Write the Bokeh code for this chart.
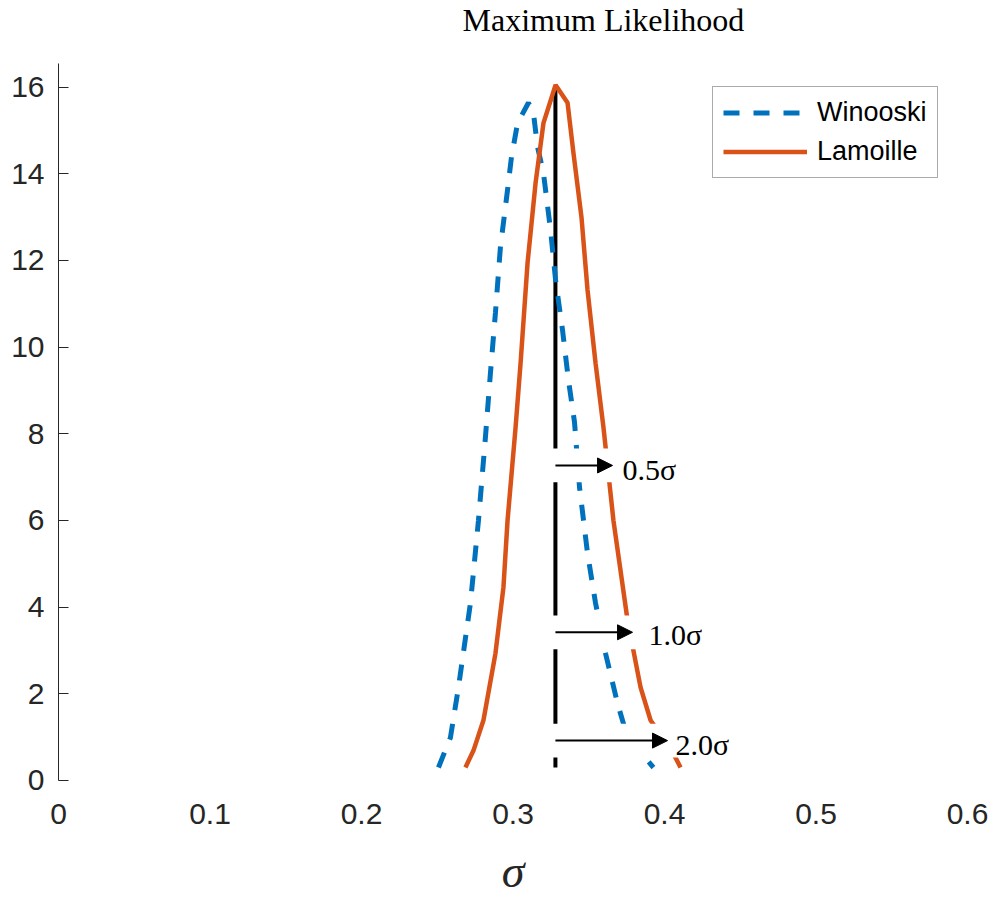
from bokeh.plotting import figure
from bokeh.models import Range1d, FixedTicker, Label, Arrow, NormalHead, Legend, LegendItem
from bokeh.embed import file_html
from bokeh.resources import INLINE

# ---------------- data ----------------
winooski_sigma = [0.2508, 0.2587, 0.2640, 0.2719, 0.2772, 0.2818, 0.2851, 0.2884, 0.2917, 0.2964,
                  0.2990, 0.3030, 0.3102, 0.3135, 0.3162, 0.3201, 0.3248, 0.3281, 0.3327, 0.3366,
                  0.3406, 0.3439, 0.3492, 0.3545, 0.3611, 0.3690, 0.3756, 0.3927]
winooski_like = [0.30, 0.99, 2.15, 4.09, 6.00, 7.92, 9.40, 10.79, 12.31, 13.63,
                 14.39, 15.17, 15.64, 15.40, 14.62, 14.02, 12.70, 11.55, 10.39, 9.24,
                 8.27, 6.77, 5.24, 4.09, 2.93, 1.78, 0.99, 0.30]

lamoille_sigma = [0.2686, 0.2739, 0.2805, 0.2884, 0.2937, 0.2964, 0.3017, 0.3050, 0.3096, 0.3149,
                  0.3201, 0.3281, 0.3360, 0.3399, 0.3452, 0.3492, 0.3545, 0.3597, 0.3663, 0.3756,
                  0.3842, 0.3908, 0.4059, 0.4106]
lamoille_like = [0.30, 0.69, 1.39, 2.93, 4.46, 6.00, 8.15, 9.63, 11.94, 13.79,
                 15.17, 16.05, 15.64, 14.48, 13.00, 11.32, 9.63, 8.15, 6.00, 3.70,
                 2.15, 1.39, 0.62, 0.30]

true_sigma = 0.328
true_line_top = 16.0
visible_floor = 0.3   # the picture is cut just above zero

shift_labels = ["0.5σ", "1.0σ", "2.0σ"]
shift_arrow_y = [7.27, 3.42, 0.92]
shift_arrow_end = [0.3657, 0.3789, 0.4020]
shift_label_x = [0.3723, 0.3894, 0.4073]
shift_label_y = [7.18, 3.37, 0.83]
shift_box_right = [0.412, 0.429, 0.448]

title_text = "Maximum Likelihood"
x_ticks = [0, 0.1, 0.2, 0.3, 0.4, 0.5, 0.6]
x_tick_labels = ["0", "0.1", "0.2", "0.3", "0.4", "0.5", "0.6"]
y_ticks = [0, 2, 4, 6, 8, 10, 12, 14, 16]
y_axis_top = 16.55

# ---------------- figure ----------------
AX = "#262626"
p = figure(width=993, height=899, output_backend="svg", toolbar_location=None, title=None,
           x_range=Range1d(0, 0.6), y_range=Range1d(-0.231, 18.0),
           min_border_left=58, min_border_right=26, min_border_top=0, min_border_bottom=109)
p.background_fill_color = "white"
p.border_fill_color = "white"
p.outline_line_color = None
p.xgrid.visible = False
p.ygrid.visible = False

# x axis
xa = p.xaxis[0]
xa.ticker = FixedTicker(ticks=x_ticks)
xa.major_label_overrides = {t: s for t, s in zip(x_ticks, x_tick_labels)}
xa.axis_line_color = None
xa.major_tick_line_color = None
xa.minor_tick_line_color = None
xa.major_tick_out = 0
xa.major_tick_in = 0
xa.major_label_standoff = 13
xa.major_label_text_font = "Liberation Sans"
xa.major_label_text_font_size = "30px"
xa.major_label_text_color = AX
xa.axis_label = "σ"
xa.axis_label_text_font = "Liberation Serif"
xa.axis_label_text_font_style = "italic"
xa.axis_label_text_font_size = "46px"
xa.axis_label_text_color = AX
xa.axis_label_standoff = 19

# y axis
ya = p.yaxis[0]
ya.ticker = FixedTicker(ticks=y_ticks)
ya.bounds = (0, y_axis_top)
ya.axis_line_color = AX
ya.axis_line_width = 1
ya.major_tick_line_color = AX
ya.major_tick_in = 10
ya.major_tick_out = 0
ya.minor_tick_line_color = None
ya.major_label_standoff = 14
ya.major_label_text_font = "Liberation Sans"
ya.major_label_text_font_size = "30px"
ya.major_label_text_color = AX

# title (inside the tall frame)
p.add_layout(Label(x=0.2667, y=17.56, text=title_text, text_font="Liberation Serif",
                   text_font_size="32px", text_color="black", text_baseline="alphabetic",
                   text_align="left"))

# ---------------- glyphs ----------------
p.segment(x0=[true_sigma], y0=[visible_floor], x1=[true_sigma], y1=[true_line_top],
          line_color="black", line_width=4)
r_w = p.line(winooski_sigma, winooski_like, line_color="#0072BD", line_width=5, line_dash="16 14")
r_l = p.line(lamoille_sigma, lamoille_like, line_color="#D95319", line_width=4.5)

# white boxes behind shift annotations
p.quad(left=[true_sigma - 0.0025] * 3, right=shift_box_right,
       top=[y + 0.39 for y in shift_arrow_y], bottom=[y - 0.39 for y in shift_arrow_y],
       fill_color="white", line_color=None)

for lab, ay, ae, lx, ly in zip(shift_labels, shift_arrow_y, shift_arrow_end, shift_label_x, shift_label_y):
    p.add_layout(Arrow(end=NormalHead(size=15, fill_color="black", line_color="black"),
                       x_start=true_sigma, y_start=ay, x_end=ae, y_end=ay,
                       line_color="black", line_width=2))
    p.add_layout(Label(x=lx, y=ly, text=lab, text_font="Liberation Serif", text_font_size="30px",
                       text_color="black", text_baseline="alphabetic", text_align="left"))

legend = Legend(items=[LegendItem(label="Winooski", renderers=[r_w]),
                       LegendItem(label="Lamoille", renderers=[r_l])],
                location=(654, 612))
legend.label_text_font = "Liberation Sans"
legend.label_text_font_size = "27px"
legend.label_text_color = "black"
legend.glyph_width = 84
legend.glyph_height = 29
legend.label_height = 29
legend.spacing = 8
legend.padding = 10
legend.margin = 0
legend.label_standoff = 10
legend.border_line_color = "#555555"
legend.border_line_width = 1
legend.background_fill_color = "white"
legend.background_fill_alpha = 1
p.add_layout(legend)

open("out.html", "w").write(file_html(p, INLINE))
